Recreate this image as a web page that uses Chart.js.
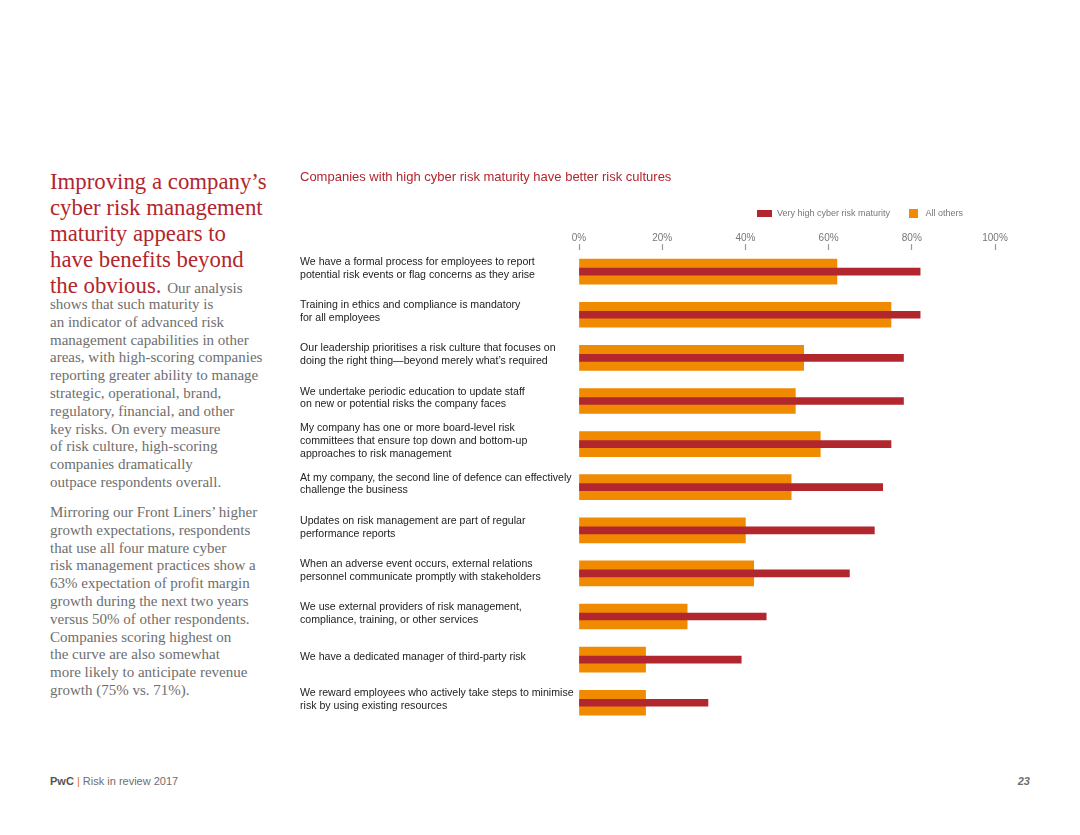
<!DOCTYPE html>
<html>
<head>
<meta charset="utf-8">
<script src="https://cdn.jsdelivr.net/npm/chart.js@4"></script>
<style>
  body { margin: 0; width: 1080px; height: 835px; background: #fff; position: relative; overflow: hidden; }
  .headline { position: absolute; left: 50px; top: 169px; width: 245px; font-family: "Liberation Serif", serif; font-size: 22.8px; line-height: 26px; color: #b2262e; white-space: nowrap; }
  .headline .lead { font-size: 15px; color: #6e6e6e; }
  .body { position: absolute; left: 50px; width: 245px; font-family: "Liberation Serif", serif; font-size: 15px; line-height: 17.8px; color: #6e6e6e; white-space: nowrap; }
  #chart-wrap { position: absolute; left: 290px; top: 160px; width: 720px; height: 580px; }
  .footer { position: absolute; left: 50px; top: 775px; font-family: "Liberation Sans", Arial, sans-serif; font-size: 11px; color: #6e6e6e; }
  .footer b { color: #555; }
  .footer .bar { color: #e0701e; }
  .page { position: absolute; right: 50px; top: 775px; font-family: "Liberation Sans", Arial, sans-serif; font-size: 11px; font-weight: bold; font-style: italic; color: #6e6e6e; }
</style>
</head>
<body>

<div class="headline">Improving a company’s<br>cyber risk management<br>maturity appears to<br>have benefits beyond<br>the obvious. <span class="lead">Our analysis</span></div>

<div class="body" style="top: 296px;">shows that such maturity is<br>an indicator of advanced risk<br>management capabilities in other<br>areas, with high-scoring companies<br>reporting greater ability to manage<br>strategic, operational, brand,<br>regulatory, financial, and other<br>key risks. On every measure<br>of risk culture, high-scoring<br>companies dramatically<br>outpace respondents overall.</div>

<div class="body" style="top: 504px;">Mirroring our Front Liners’ higher<br>growth expectations, respondents<br>that use all four mature cyber<br>risk management practices show a<br>63% expectation of profit margin<br>growth during the next two years<br>versus 50% of other respondents.<br>Companies scoring highest on<br>the curve are also somewhat<br>more likely to anticipate revenue<br>growth (75% vs. 71%).</div>

<div id="chart-wrap"><canvas id="myChart"></canvas></div>

<div class="footer"><b>PwC</b> <span class="bar">|</span> Risk in review 2017</div>
<div class="page">23</div>

<script>
// Chart data
const chartTitle = 'Companies with high cyber risk maturity have better risk cultures';
const seriesNames = ['Very high cyber risk maturity', 'All others'];

const statements = [
    ['We have a formal process for employees to report', 'potential risk events or flag concerns as they arise'],
    ['Training in ethics and compliance is mandatory', 'for all employees'],
    ['Our leadership prioritises a risk culture that focuses on', 'doing the right thing\u2014beyond merely what\u2019s required'],
    ['We undertake periodic education to update staff', 'on new or potential risks the company faces'],
    ['My company has one or more board-level risk', 'committees that ensure top down and bottom-up', 'approaches to risk management'],
    ['At my company, the second line of defence can effectively', 'challenge the business'],
    ['Updates on risk management are part of regular', 'performance reports'],
    ['When an adverse event occurs, external relations', 'personnel communicate promptly with stakeholders'],
    ['We use external providers of risk management,', 'compliance, training, or other services'],
    ['We have a dedicated manager of third-party risk'],
    ['We reward employees who actively take steps to minimise', 'risk by using existing resources']
];

const veryHighMaturity = [82, 82, 78, 78, 75, 73, 71, 65, 45, 39, 31];
const allOthers = [62, 75, 54, 52, 58, 51, 40, 42, 26, 16, 16];

const percentTicks = [0, 20, 40, 60, 80, 100];

const red = '#b2262e';
const orange = '#f08a00';

// Small canvases used as legend markers (wide red bar, orange square)
function makeMarker(w, h, color) {
    const c = document.createElement('canvas');
    c.width = w;
    c.height = h;
    const g = c.getContext('2d');
    g.fillStyle = color;
    g.fillRect(0, 0, w, h);
    return c;
}
const markers = [makeMarker(15, 7, red), makeMarker(9, 9, orange)];

// Nudge the legend left so it ends under the 100% label like the original
const legendShift = {
    id: 'legendShift',
    afterLayout(chart) {
        chart.legend.left -= 16;
        chart.legend.right -= 16;
    }
};

const ctx = document.getElementById('myChart').getContext('2d');
const myChart = new Chart(ctx, {
    type: 'bar',
    data: {
        labels: statements,
        datasets: [{
            label: seriesNames[0],
            data: veryHighMaturity,
            backgroundColor: red,
            barThickness: 7
        }, {
            label: seriesNames[1],
            data: allOthers,
            backgroundColor: orange,
            barThickness: 25
        }]
    },
    options: {
        indexAxis: 'y',
        responsive: true,
        maintainAspectRatio: false,
        animation: false,
        datasets: { bar: { grouped: false } },
        layout: { padding: { left: 10, right: 15, top: 0, bottom: 5 } },
        plugins: {
            title: {
                display: true,
                text: chartTitle,
                align: 'start',
                color: red,
                font: { family: '"Liberation Sans", Arial, sans-serif', size: 13, weight: 'normal' },
                padding: { top: 10, bottom: 7 }
            },
            legend: {
                display: true,
                align: 'end',
                labels: {
                    usePointStyle: true,
                    pointStyleWidth: 15,
                    padding: 16,
                    color: '#777',
                    font: { family: '"Liberation Sans", Arial, sans-serif', size: 9 },
                    generateLabels: function(chart) {
                        return chart.data.datasets.map((ds, i) => ({
                            text: ds.label,
                            pointStyle: markers[i],
                            fillStyle: ds.backgroundColor,
                            strokeStyle: ds.backgroundColor,
                            lineWidth: 0,
                            fontColor: '#777',
                            datasetIndex: i,
                            hidden: !chart.isDatasetVisible(i)
                        }));
                    }
                }
            },
            tooltip: {
                callbacks: {
                    label: function(item) {
                        return `${item.dataset.label}: ${item.raw}%`;
                    }
                }
            }
        },
        scales: {
            x: {
                position: 'top',
                min: 0,
                max: 100,
                afterBuildTicks: function(scale) {
                    scale.ticks = percentTicks.map(v => ({ value: v }));
                },
                afterFit: function(scale) {
                    scale.height = 22.5;
                },
                ticks: {
                    padding: 0,
                    color: '#777',
                    font: { family: '"Liberation Sans", Arial, sans-serif', size: 10 },
                    callback: function(value) {
                        return value + '%';
                    }
                },
                grid: {
                    drawOnChartArea: false,
                    drawTicks: true,
                    tickLength: 6,
                    tickColor: '#999',
                    tickWidth: 1.2
                },
                border: { display: false }
            },
            y: {
                afterFit: function(scale) {
                    scale.width = 279;
                },
                ticks: {
                    crossAlign: 'far',
                    labelOffset: -3,
                    color: '#222',
                    font: { family: '"Liberation Sans", Arial, sans-serif', size: 10.6, lineHeight: 1.2 }
                },
                grid: { display: false },
                border: { display: false }
            }
        }
    },
    plugins: [legendShift]
});
</script>
</body>
</html>
